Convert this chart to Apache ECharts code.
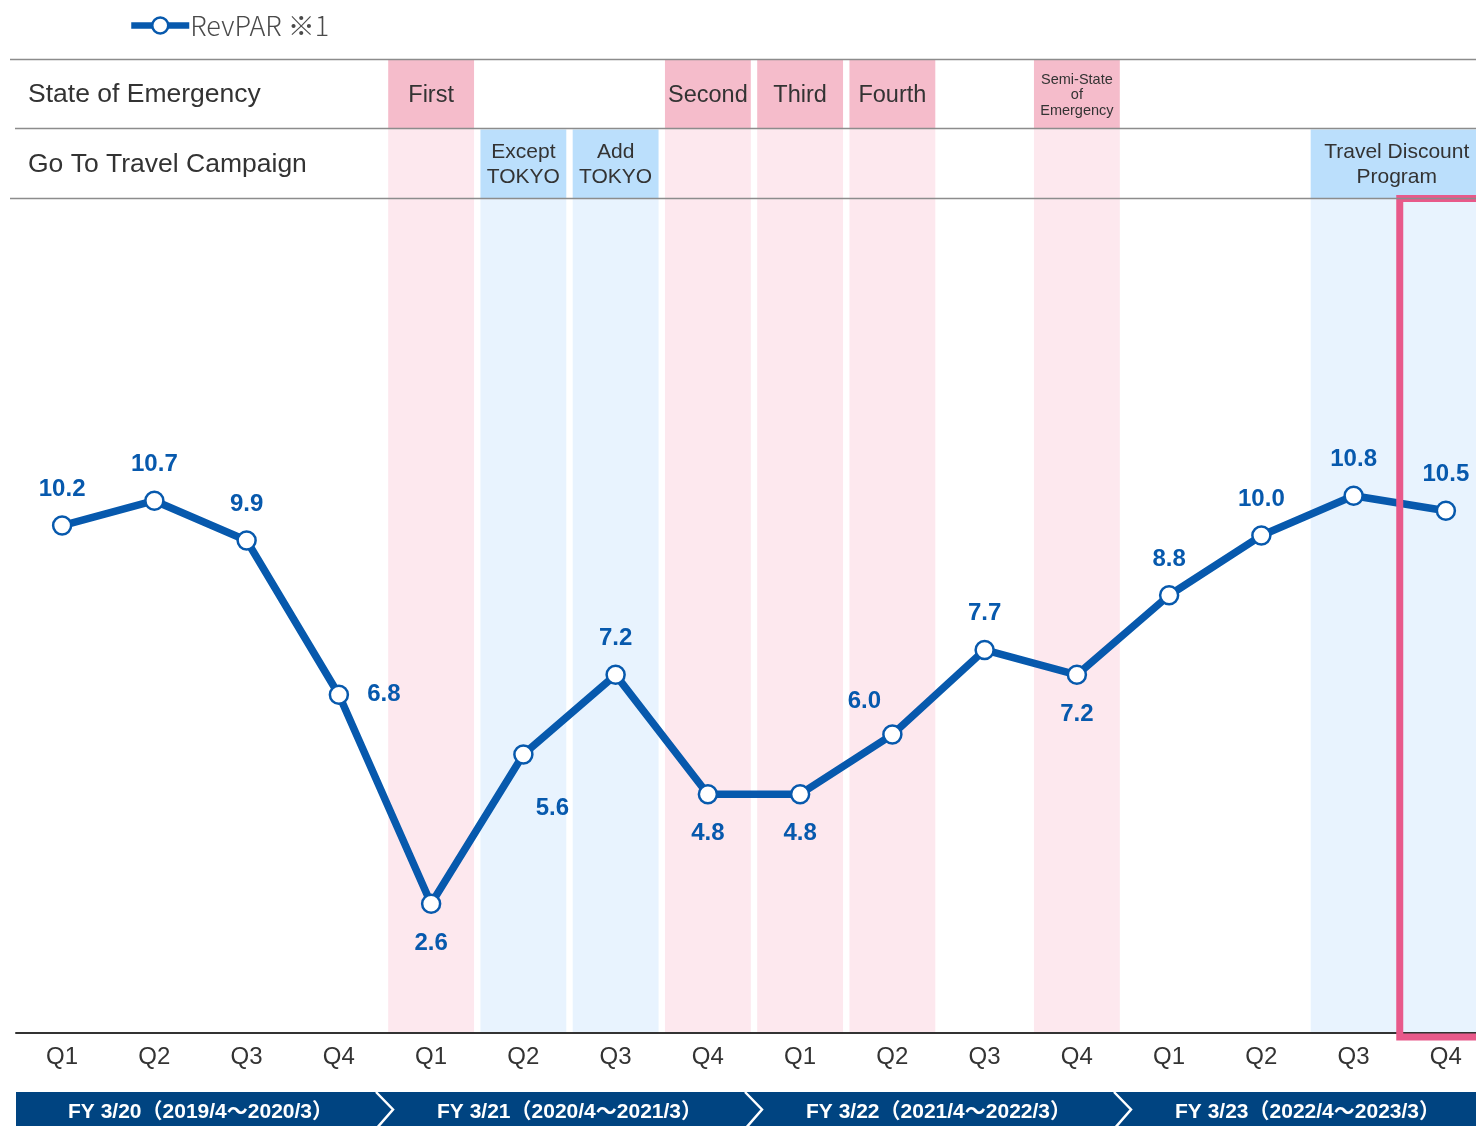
<!DOCTYPE html>
<html><head><meta charset="utf-8">
<script src="https://cdn.jsdelivr.net/npm/echarts@6/dist/echarts.min.js"></script>
<style>html,body{margin:0;padding:0;background:#fff}#c{width:1476px;height:1126px}</style>
</head><body><div id="c"></div>
<script>
// ---- data ----
const quarters = ['Q1','Q2','Q3','Q4','Q1','Q2','Q3','Q4','Q1','Q2','Q3','Q4','Q1','Q2','Q3','Q4'];
const revpar = [10.2,10.7,9.9,6.8,2.6,5.6,7.2,4.8,4.8,6.0,7.7,7.2,8.8,10.0,10.8,10.5];
const seriesName = 'RevPAR ※1';
const rowLabels = ['State of Emergency','Go To Travel Campaign'];
const emergencyPeriods = [[4,4,'First'],[7,7,'Second'],[8,8,'Third'],[9,9,'Fourth'],[11,11,'Semi-State\nof\nEmergency']];
const travelPeriods = [[5,5,'Except\nTOKYO'],[6,6,'Add\nTOKYO'],[14,15,'Travel Discount\nProgram']];
const fiscalYears = [[0,3,'FY 3/20（2019/4～2020/3）'],[4,7,'FY 3/21（2020/4～2021/3）'],[8,11,'FY 3/22（2021/4～2022/3）'],[12,15,'FY 3/23（2022/4～2023/3）']];
const highlightQuarter = [15];

// ---- style / layout ----
const LINE = '#0759ad';
const FONT = '"Liberation Sans", Arial, sans-serif';
const ROW_H = 69.5;
const GAP = 3.2;
const labelPos = ['top','top','top','right','bottom','bottom','top','bottom','bottom','top','top','bottom','top','top','top','top'];
const labelOffset = {5:[29,15], 9:[-28,3]};
const cellFont = {'Semi-State\nof\nEmergency':[14.5,15.5]};

function bandRenderer(list, kind){
  return function(params, api){
    const it = list[params.dataIndex];
    const cs = params.coordSys;
    const w = api.size([1,0])[0];
    const x0 = api.coord([it[0],0])[0] - w/2 + GAP;
    const x1 = api.coord([it[1],0])[0] + w/2 - GAP;
    const top = cs.y, bottom = cs.y + cs.height - 1;
    const r1t = top + 1, r1b = top + ROW_H, r2b = top + 2*ROW_H;
    let hTop, hBot, dark, light;
    if (kind === 'soe') { hTop = r1t; hBot = r1b; dark = '#f5bccb'; light = '#fde8ee'; }
    else { hTop = r1b + 1; hBot = r2b; dark = '#bbdffc'; light = '#e8f3fe'; }
    const fs = cellFont[it[2]] || (kind === 'soe' ? [23.5, 26] : [21, 25.5]);
    const span = it[1] > it[0];
    return {type:'group', children:[
      {type:'rect', shape:{x:x0, y:hBot, width:x1-x0, height:bottom-hBot}, style:{fill:light}},
      {type:'rect', shape:{x:x0, y:hTop, width:x1-x0, height:hBot-hTop}, style:{fill:dark}},
      {type:'text', style:{text:it[2], x:span ? (x0 + x1)/2 - 3 : (x0+x1)/2, y:(hTop+hBot)/2 + 1, align:'center', verticalAlign:'middle',
        fontSize:fs[0], lineHeight:fs[1], fontFamily:FONT, fill:'#333'}}
    ]};
  };
}

const chart = echarts.init(document.getElementById('c'), null, {renderer:'canvas'});
chart.setOption({
  animation:false,
  backgroundColor:'#fff',
  legend:{left:128, top:12, padding:0, itemWidth:58, itemHeight:20, itemGap:10,
    data:[{name:seriesName, lineStyle:{width:6.5, color:LINE}, itemStyle:{color:'#fff', borderColor:LINE, borderWidth:2.5}}],
    textStyle:{fontSize:27, color:'#4a4a4a', fontFamily:'"Noto Sans CJK JP", sans-serif', fontWeight:300, padding:[0,0,8,-4]}},
  grid:{left:16, top:59, width:1476, height:974, outerBoundsMode:'none', containLabel:false},
  xAxis:{type:'category', data:quarters.map((q,i)=>q+'#'+i), boundaryGap:true,
    axisLine:{lineStyle:{color:'#333', width:2}}, axisTick:{show:false},
    axisLabel:{formatter:v=>v.split('#')[0], fontSize:24, color:'#333', margin:12, fontFamily:FONT}},
  yAxis:{type:'value', min:0, max:19.58, show:false, splitLine:{show:false}},
  graphic:[
    {type:'line', z:100, shape:{x1:10,y1:59.5,x2:1476,y2:59.5}, style:{stroke:'#8c8c8c', lineWidth:1.5}},
    {type:'line', z:100, shape:{x1:15,y1:128.5,x2:1476,y2:128.5}, style:{stroke:'#8c8c8c', lineWidth:1.5}},
    {type:'line', z:100, shape:{x1:10,y1:198.5,x2:1476,y2:198.5}, style:{stroke:'#8c8c8c', lineWidth:1.5}},
    {type:'text', z:100, x:28, y:95, style:{text:rowLabels[0], font:'26.5px '+FONT, fill:'#333', verticalAlign:'middle'}},
    {type:'text', z:100, x:28, y:165, style:{text:rowLabels[1], font:'26.5px '+FONT, fill:'#333', verticalAlign:'middle'}}
  ],
  series:[
    {type:'custom', name:'soe', z:1, silent:true, renderItem:bandRenderer(emergencyPeriods,'soe'),
      data:emergencyPeriods.map(p=>[p[0],p[1]]), encode:{x:[0,1]}},
    {type:'custom', name:'gtt', z:1, silent:true, renderItem:bandRenderer(travelPeriods,'gtt'),
      data:travelPeriods.map(p=>[p[0],p[1]]), encode:{x:[0,1]}},
    {type:'custom', name:'fy', z:1, silent:true,
      data:fiscalYears.map(f=>[f[0],f[1]]), encode:{x:[0,1]},
      renderItem:function(params, api){
        const it = fiscalYears[params.dataIndex];
        const cs = params.coordSys;
        const w = api.size([1,0])[0];
        const x0 = api.coord([it[0],0])[0] - w/2;
        const x1 = api.coord([it[1],0])[0] + w/2;
        const y0 = cs.y + cs.height + 59, h = 35;
        const ch = [{type:'rect', shape:{x:x0, y:y0, width:x1-x0, height:h+2}, style:{fill:'#004481'}}];
        if (params.dataIndex > 0) {
          ch.push({type:'polyline', shape:{points:[[x0-9,y0],[x0+8,y0+17.5],[x0-9,y0+h+2]]}, style:{stroke:'#fff', lineWidth:2.5, fill:null}});
        }
        ch.push({type:'text', style:{text:it[2], x:(x0+x1)/2, y:y0+20, align:'center', verticalAlign:'middle',
          fontSize:21, fontWeight:'bold', fontFamily:'"Liberation Sans", "Noto Sans CJK JP", sans-serif', fill:'#fff'}});
        return {type:'group', children:ch};
      }},
    {type:'line', name:seriesName, z:3,
      data:revpar.map((v,i)=>({value:v, label:{position:labelPos[i], offset:labelOffset[i]||[0,0],
        distance: labelPos[i]==='bottom'?17:(labelPos[i]==='right'?18:14)}})),
      lineStyle:{color:LINE, width:7.5}, itemStyle:{color:'#fff', borderColor:LINE, borderWidth:2.5},
      symbol:'circle', symbolSize:18, showAllSymbol:true,
      label:{show:true, fontSize:24, fontWeight:'bold', color:LINE, fontFamily:FONT, formatter:p=>p.value.toFixed(1)}},
    {type:'custom', name:'hl', z:5, silent:true,
      data:highlightQuarter.map(q=>[q,0]), encode:{x:0},
      renderItem:function(params, api){
        const cs = params.coordSys;
        const w = api.size([1,0])[0];
        const x0 = api.coord([highlightQuarter[params.dataIndex],0])[0] - w/2;
        const top = cs.y + 2*ROW_H + 0.5;
        const bottom = cs.y + cs.height + 4;
        return {type:'rect', shape:{x:x0, y:top, width:w+20, height:bottom-top}, style:{fill:null, stroke:'#e8598a', lineWidth:7}};
      }}
  ]
});
</script></body></html>
